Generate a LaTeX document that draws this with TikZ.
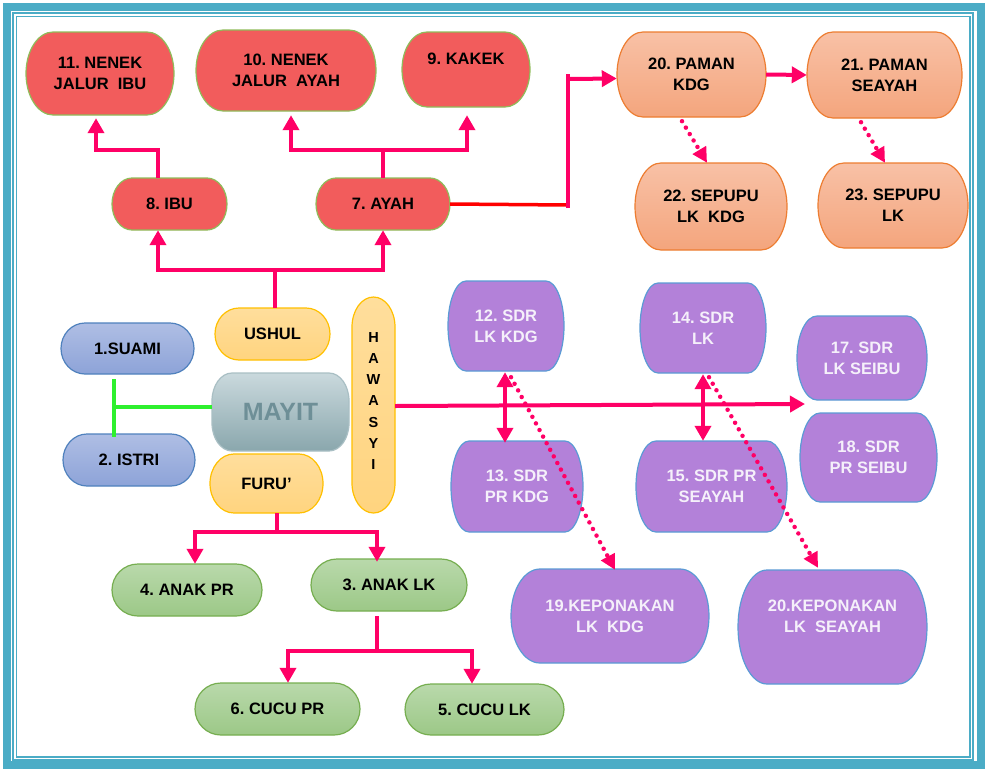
\documentclass[tikz,border=0pt]{standalone}
\usepackage{fontspec}
\setmainfont{Liberation Sans}
\usetikzlibrary{arrows.meta}
\frenchspacing

\definecolor{redF}{HTML}{F25C5C}
\definecolor{redB}{HTML}{8FBC5A}
\definecolor{orgTop}{HTML}{F8C1A6}
\definecolor{orgBot}{HTML}{F4A57D}
\definecolor{orgB}{HTML}{ED7D31}
\definecolor{bluTop}{HTML}{AFBEE4}
\definecolor{bluBot}{HTML}{8DA3D8}
\definecolor{bluB}{HTML}{4F81BD}
\definecolor{yelTop}{HTML}{FFDE9C}
\definecolor{yelBot}{HTML}{FFD47F}
\definecolor{yelB}{HTML}{FFC000}
\definecolor{mayTop}{HTML}{CAD9DD}
\definecolor{mayBot}{HTML}{8AA7AD}
\definecolor{mayB}{HTML}{A9BFC4}
\definecolor{mayText}{HTML}{6E8F97}
\definecolor{purF}{HTML}{B381D9}
\definecolor{purB}{HTML}{5B9BD5}
\definecolor{purText}{HTML}{F5F0FA}
\definecolor{grnTop}{HTML}{B9D9AB}
\definecolor{grnBot}{HTML}{9CC887}
\definecolor{grnB}{HTML}{76AE50}
\definecolor{pinkC}{HTML}{FF0066}
\definecolor{redL}{HTML}{FF0000}
\definecolor{greenL}{HTML}{2EF02E}
\definecolor{frameC}{HTML}{4BACC6}

\tikzset{
  shapebase/.style={line width=1.2pt},
  redbox/.style={shapebase, fill=redF, draw=redB},
  redbox text/.style={text=black},
  orgbox/.style={shapebase, top color=orgTop, bottom color=orgBot, draw=orgB},
  orgbox text/.style={text=black},
  blubox/.style={shapebase, top color=bluTop, bottom color=bluBot, draw=bluB},
  blubox text/.style={text=black},
  yelbox/.style={shapebase, top color=yelTop, bottom color=yelBot, draw=yelB},
  yelbox text/.style={text=black},
  maybox/.style={shapebase, top color=mayTop, bottom color=mayBot, draw=mayB},
  maybox text/.style={text=mayText, font=\fontsize{25}{28}\selectfont\bfseries},
  purbox/.style={shapebase, fill=purF, draw=purB},
  purbox text/.style={text=purText},
  grnbox/.style={shapebase, top color=grnTop, bottom color=grnBot, draw=grnB},
  grnbox text/.style={text=black},
  boxtxt/.style={font=\fontsize{16.5}{21}\selectfont\bfseries, align=center, inner sep=0pt},
  conn/.style={draw=pinkC, line width=4pt},
  arr/.style={conn, -{Triangle[width=16pt,length=15pt]}},
  darr/.style={conn, {Triangle[width=16pt,length=15pt]}-{Triangle[width=16pt,length=15pt]}},
  dotarr/.style={draw=pinkC, line width=4.5pt, line cap=round, dash pattern=on 0pt off 7.5pt, -{Triangle[width=15pt,length=15pt]}},
  redline/.style={draw=redL, line width=3.5pt},
  greenline/.style={draw=greenL, line width=4pt},
}

% #1 style, #2 name, #3 x1, #4 y1, #5 x2, #6 y2, #7 rx, #8 ry, #9 text
\newcommand\rbox[9]{%
  \draw[#1] ({#3+#7},{-#4}) -- ({#5-#7},{-#4})
    arc[start angle=90,end angle=0,x radius=#7,y radius=#8]
    -- ({#5},{-#6+#8})
    arc[start angle=0,end angle=-90,x radius=#7,y radius=#8]
    -- ({#3+#7},{-#6})
    arc[start angle=270,end angle=180,x radius=#7,y radius=#8]
    -- ({#3},{-#4-#8})
    arc[start angle=180,end angle=90,x radius=#7,y radius=#8]
    -- cycle;
  \node[boxtxt, #1 text, minimum width={(#5-#3)*1pt}, minimum height={(#6-#4)*1pt}]
    (#2) at ({(#3+#5)/2},{-(#4+#6)/2}) {#9};
}

\begin{document}
\begin{tikzpicture}[x=1pt,y=1pt]
\useasboundingbox (0,0) rectangle (986,-769);
\fill[white] (0,0) rectangle (986,-769);

% frame
\draw[frameC, line width=8pt] (7,-7) rectangle (980.5,-765);
\draw[frameC, line width=2pt] (13.3,-13.3) rectangle (973,-760);
\draw[frameC, line width=1.2pt] (16.5,-16.5) rectangle (970,-757);

% red nodes
\rbox{redbox}{n11}{26}{32}{174}{115}{27}{41.5}{11. NENEK\\JALUR~~IBU}
\rbox{redbox}{n10}{196}{30}{376}{111}{27}{40.5}{10. NENEK\\JALUR~~AYAH}
\rbox{redbox}{n9}{402}{32}{530}{107}{25}{37.5}{9. KAKEK\\\mbox{}}
\rbox{redbox}{ibu}{112}{178}{227}{230}{20}{26}{8. IBU}
\rbox{redbox}{ayah}{316}{178}{450}{230}{20}{26}{7. AYAH}

% orange nodes
\rbox{orgbox}{p20}{617}{32}{766}{117}{26}{42.5}{20. PAMAN\\KDG}
\rbox{orgbox}{p21}{807}{32}{962}{118}{26}{43}{21. PAMAN\\SEAYAH}
\rbox{orgbox}{s22}{635}{163}{787}{250}{26}{43.5}{22. SEPUPU\\LK~~KDG}
\rbox{orgbox}{s23}{818}{163}{968}{248}{26}{42.5}{23. SEPUPU\\LK}

% blue nodes
\rbox{blubox}{suami}{61}{323}{194}{374}{24}{25.5}{1.SUAMI}
\rbox{blubox}{istri}{63}{434}{195}{486}{24}{26}{2. ISTRI}

% yellow nodes
\rbox{yelbox}{ushul}{215}{308}{330}{360}{24}{26}{USHUL}
\rbox{yelbox}{furu}{210}{454}{323}{513}{24}{29.5}{FURU’}
\rbox{yelbox}{haw}{352}{297}{395}{513}{21.5}{30}{}
\node[font=\fontsize{14.5}{21.3}\selectfont\bfseries, align=center, inner sep=0pt] (hawt) at (373.5,-401) {H\\A\\W\\A\\S\\Y\\I};

% mayit
\rbox{maybox}{mayit}{212}{373}{349}{451}{20}{28}{MAYIT}

% purple nodes
\rbox{purbox}{s12}{448}{281}{564}{371}{18}{45}{12. SDR\\LK KDG}
\rbox{purbox}{s13}{451}{441}{583}{532}{18}{45.5}{13. SDR\\PR KDG}
\rbox{purbox}{s14}{640}{283}{766}{373}{18}{45}{14. SDR\\LK}
\rbox{purbox}{s15}{636}{441}{787}{532}{20}{45.5}{15. SDR PR\\SEAYAH}
\rbox{purbox}{s17}{797}{316}{927}{400}{20}{42}{17. SDR\\LK SEIBU}
\rbox{purbox}{s18}{800}{413}{937}{502}{20}{44.5}{18. SDR\\PR SEIBU}
\rbox{purbox}{k19}{511}{569}{709}{663}{29}{47}{19.KEPONAKAN\\LK~~KDG}
\rbox{purbox}{k20}{738}{570}{927}{684}{29}{57}{20.KEPONAKAN\\LK~~SEAYAH\\\mbox{}}

% green nodes
\rbox{grnbox}{a4}{112}{564}{262}{616}{26}{26}{4. ANAK PR}
\rbox{grnbox}{a3}{311}{559}{467}{611}{26}{26}{3. ANAK LK}
\rbox{grnbox}{c6}{195}{683}{360}{735}{26}{26}{6. CUCU PR}
\rbox{grnbox}{c5}{405}{684}{564}{735}{26}{25.5}{5. CUCU LK}

% ---- connectors ----
% ushul -> ibu, ayah
\draw[arr] ([xshift=2.5pt]ushul.north) -- ++(0,38) -| ([xshift=-11.5pt]ibu.south);
\draw[arr] ([xshift=2.5pt]ushul.north) -- ++(0,38) -| (ayah.south);
% ibu -> nenek jalur ibu
\draw[arr] ([xshift=-11.5pt]ibu.north) -- ++(0,28) -| ([xshift=-4pt,yshift=-3pt]n11.south);
% ayah -> nenek jalur ayah, kakek
\draw[arr] (ayah.north) -- ++(0,28) -| ([xshift=5pt,yshift=-4pt]n10.south);
\draw[arr] (ayah.north) -- ++(0,28) -| ([xshift=1pt,yshift=-8pt]n9.south);
% ayah -> paman
\coordinate (pj) at (568,-205);
\coordinate (pt) at (568,-74);
\draw[redline] (ayah.east) -- (pj);
\draw[conn] ([yshift=-3pt]pj) -- (pt);
\draw[arr] ([yshift=-5pt]pt) -- ([yshift=-4pt]p20.west);
\draw[arr] (p20.east) -- (p21.west);
\draw[dotarr] ([xshift=-9.5pt,yshift=-4pt]p20.south) -- ([xshift=-4pt]s22.north);
\draw[dotarr] ([xshift=-23.5pt,yshift=-4pt]p21.south) -- ([xshift=-8pt]s23.north);

% mayit -- suami/istri
\coordinate (gj) at (114,-407);
\draw[greenline] ([yshift=5pt]mayit.west) -- (gj);
\draw[greenline] ([xshift=-13.5pt,yshift=-5pt]suami.south) -- ([xshift=-15pt,yshift=-3pt]istri.north);

% furu -> anak
\draw[arr] ([xshift=10.5pt]furu.south) -- ++(0,-19) -| ([xshift=8pt]a4.north);
\draw[arr] ([xshift=10.5pt]furu.south) -- ++(0,-19) -| ([xshift=-12pt,yshift=-3pt]a3.north);
% anak lk -> cucu
\draw[arr] ([xshift=-12pt,yshift=-5pt]a3.south) -- ++(0,-35) -| ([xshift=10.5pt]c6.north);
\draw[arr] ([xshift=-12pt,yshift=-5pt]a3.south) -- ++(0,-35) -| ([xshift=-12.5pt]c5.north);

% hawasyi
\coordinate (hend) at (805,-404);
\draw[arr] ([yshift=-1pt]haw.east) -- (hend);

% saudara
\draw[darr] ([xshift=-1pt,yshift=-1pt]s12.south) -- ([xshift=-12pt,yshift=-2pt]s13.north);
\draw[darr] ([yshift=-1pt]s14.south) -- ([xshift=-8.5pt]s15.north);
\draw[dotarr] ([xshift=5pt,yshift=-6pt]s12.south) -- ([xshift=5pt,yshift=-1pt]k19.north);
\draw[dotarr] ([xshift=6pt,yshift=-4pt]s14.south) -- ([xshift=-14.5pt,yshift=2pt]k20.north);
\end{tikzpicture}
\end{document}
